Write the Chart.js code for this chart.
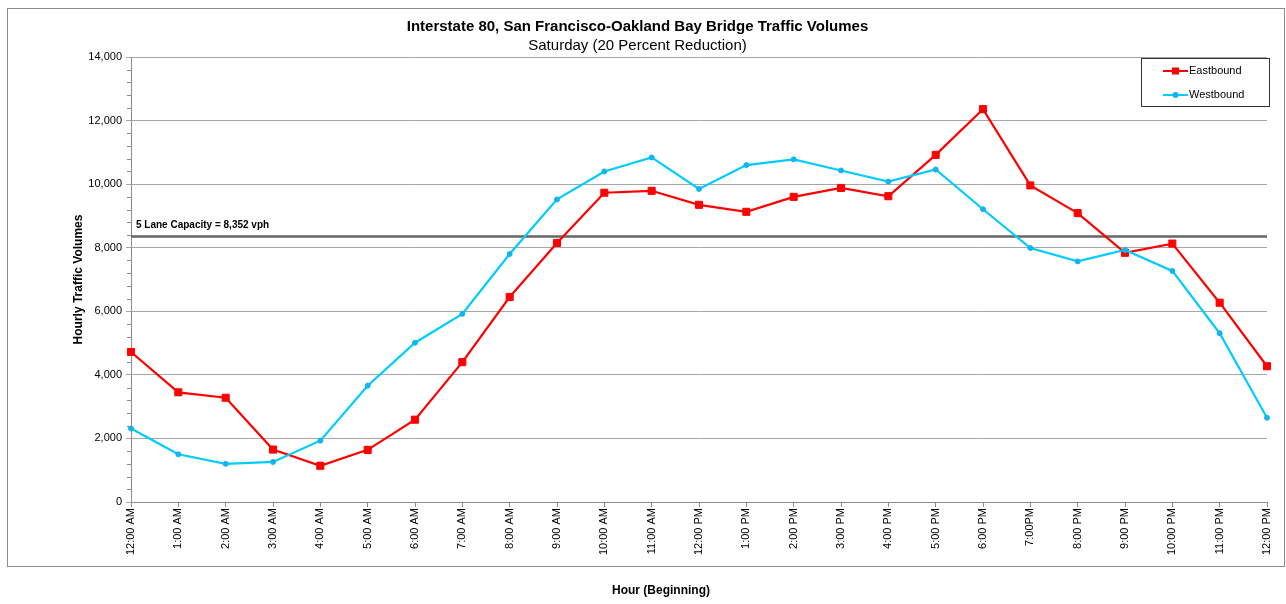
<!DOCTYPE html>
<html>
<head>
<meta charset="utf-8">
<title>I-80 Bay Bridge Traffic Volumes</title>
<script src="https://cdn.jsdelivr.net/npm/chart.js@4.4.1/dist/chart.umd.min.js"></script>
<style>
    html, body { margin: 0; padding: 0; background: #ffffff; }
    #chart-wrap { width: 1286px; height: 604px; }
</style>
</head>
<body>
<div id="chart-wrap">
    <canvas id="trafficChart" width="1286" height="604"></canvas>
</div>
<script>
// Hour labels (as written on the original sheet)
const hourLabels = [
    '12:00 AM', '1:00 AM', '2:00 AM', '3:00 AM', '4:00 AM', '5:00 AM', '6:00 AM',
    '7:00 AM', '8:00 AM', '9:00 AM', '10:00 AM', '11:00 AM', '12:00 PM',
    '1:00 PM', '2:00 PM', '3:00 PM', '4:00 PM', '5:00 PM', '6:00 PM',
    '7:00PM', '8:00 PM', '9:00 PM', '10:00 PM', '11:00 PM', '12:00 PM'
];

// Hourly volumes, vehicles per hour
const eastbound = [
    4720, 3450, 3280, 1650, 1140, 1640, 2590, 4400, 6450, 8150, 9730, 9790, 9350,
    9130, 9600, 9880, 9620, 10920, 12360, 9960, 9090, 7840, 8130, 6270, 4270
];
const westbound = [
    2310, 1500, 1200, 1260, 1930, 3660, 5010, 5920, 7800, 9520, 10400, 10840, 9850,
    10600, 10780, 10430, 10080, 10460, 9210, 7990, 7570, 7930, 7270, 5310, 2650
];

// Y axis ticks
const yTicks = [0, 2000, 4000, 6000, 8000, 10000, 12000, 14000];
const yMinorStep = 400;

// Capacity reference line
const laneCapacity = 8352;
const capacityLabel = '5 Lane Capacity = 8,352 vph';
const xAxisTitle = 'Hour (Beginning)';

const FONT = "Arial, 'Liberation Sans', sans-serif";

document.addEventListener('DOMContentLoaded', function() {
    Chart.defaults.font.family = FONT;
    Chart.defaults.color = '#000000';
    initTrafficChart();
});

// Outer frame, minor ticks, capacity line, x title and the boxed legend
const decorPlugin = {
    id: 'decor',
    beforeDraw(chart) {
        const ctx = chart.ctx;
        ctx.save();
        ctx.fillStyle = '#ffffff';
        ctx.fillRect(0, 0, chart.width, chart.height);
        ctx.strokeStyle = '#8c8c8c';
        ctx.lineWidth = 1;
        ctx.strokeRect(7.5, 8.5, 1277, 558);

        // axis title sits below the frame, centred on the page
        ctx.fillStyle = '#000000';
        ctx.font = 'bold 12px ' + FONT;
        ctx.textAlign = 'center';
        ctx.textBaseline = 'middle';
        ctx.fillText(xAxisTitle, 661, 591);
        ctx.restore();
    },
    beforeDatasetsDraw(chart) {
        const ctx = chart.ctx;
        const y = chart.scales.y;
        const area = chart.chartArea;
        ctx.save();

        // minor ticks on the value axis
        ctx.strokeStyle = '#8c8c8c';
        ctx.lineWidth = 1;
        for (let v = 0; v <= y.max; v += yMinorStep) {
            if (v % 2000 === 0) continue;
            const py = Math.round(y.getPixelForValue(v)) + 0.5;
            ctx.beginPath();
            ctx.moveTo(area.left - 4, py);
            ctx.lineTo(area.left, py);
            ctx.stroke();
        }

        // capacity line
        const cy = y.getPixelForValue(laneCapacity);
        ctx.strokeStyle = '#666666';
        ctx.lineWidth = 2.5;
        ctx.beginPath();
        ctx.moveTo(area.left, cy);
        ctx.lineTo(area.right, cy);
        ctx.stroke();

        ctx.fillStyle = '#000000';
        ctx.font = 'bold 10px ' + FONT;
        ctx.textBaseline = 'alphabetic';
        ctx.fillText(capacityLabel, area.left + 5, cy - 9);
        ctx.restore();
    },
    afterDraw(chart) {
        const ctx = chart.ctx;
        const box = { x: 1141.5, y: 58.5, w: 128, h: 48 };
        ctx.save();
        ctx.fillStyle = '#ffffff';
        ctx.fillRect(box.x, box.y, box.w, box.h);
        ctx.strokeStyle = '#333333';
        ctx.lineWidth = 1;
        ctx.strokeRect(box.x, box.y, box.w, box.h);

        // legend rows: Eastbound first, as in the original
        const rows = [chart.data.datasets[1], chart.data.datasets[0]];
        rows.forEach((ds, i) => {
            const ly = 71 + i * 24;
            ctx.strokeStyle = ds.borderColor;
            ctx.lineWidth = 2;
            ctx.beginPath();
            ctx.moveTo(1163, ly);
            ctx.lineTo(1188, ly);
            ctx.stroke();
            ctx.fillStyle = ds.pointBackgroundColor;
            if (ds.pointStyle === 'rect') {
                ctx.fillRect(1172, ly - 3.5, 7, 7);
            } else {
                ctx.beginPath();
                ctx.arc(1175.5, ly, 3, 0, Math.PI * 2);
                ctx.fill();
            }
            ctx.fillStyle = '#000000';
            ctx.font = '11px ' + FONT;
            ctx.textBaseline = 'middle';
            ctx.fillText(ds.label, 1189, ly);
        });
        ctx.restore();
    }
};

function initTrafficChart() {
    const ctx = document.getElementById('trafficChart');
    if (!ctx) return;

    new Chart(ctx, {
        type: 'line',
        data: {
            labels: hourLabels,
            datasets: [
                {
                    label: 'Westbound',
                    data: westbound,
                    borderColor: '#00ccff',
                    backgroundColor: '#00ccff',
                    pointBackgroundColor: '#14b4ec',
                    pointBorderColor: '#14b4ec',
                    pointStyle: 'circle',
                    pointRadius: 2.5,
                    pointBorderWidth: 1,
                    borderWidth: 2.2,
                    tension: 0,
                    fill: false
                },
                {
                    label: 'Eastbound',
                    data: eastbound,
                    borderColor: '#ff0000',
                    backgroundColor: '#ff0000',
                    pointBackgroundColor: '#ff0000',
                    pointBorderColor: '#ff0000',
                    pointStyle: 'rect',
                    pointRadius: 5,
                    pointBorderWidth: 1,
                    borderWidth: 2.2,
                    tension: 0,
                    fill: false
                }
            ]
        },
        options: {
            responsive: false,
            animation: false,
            layout: {
                padding: { top: 8, left: 8, right: 19, bottom: 0 }
            },
            plugins: {
                legend: { display: false },
                tooltip: { enabled: false },
                title: {
                    display: true,
                    text: 'Interstate 80, San Francisco-Oakland Bay Bridge Traffic Volumes',
                    font: { size: 15, weight: 'bold' },
                    color: '#000000',
                    padding: { top: 10, bottom: 1 }
                },
                subtitle: {
                    display: true,
                    text: 'Saturday (20 Percent Reduction)',
                    font: { size: 15 },
                    color: '#000000',
                    padding: { top: 0, bottom: 2 }
                }
            },
            scales: {
                x: {
                    type: 'category',
                    offset: false,
                    afterFit: scale => { scale.height = 102; },
                    grid: {
                        drawOnChartArea: false,
                        drawTicks: true,
                        tickLength: 5,
                        color: '#8c8c8c'
                    },
                    border: { color: '#8c8c8c' },
                    ticks: {
                        autoSkip: false,
                        minRotation: 90,
                        maxRotation: 90,
                        padding: 1,
                        font: { size: 11 },
                        color: '#000000'
                    }
                },
                y: {
                    min: 0,
                    max: 14000,
                    afterFit: scale => { scale.width = 123; },
                    afterBuildTicks: scale => {
                        scale.ticks = yTicks.map(v => ({ value: v }));
                    },
                    grid: {
                        color: '#a6a6a6',
                        tickLength: 5
                    },
                    border: { color: '#8c8c8c' },
                    ticks: {
                        padding: 4,
                        font: { size: 11 },
                        color: '#000000',
                        callback: v => v.toLocaleString('en-US')
                    },
                    title: {
                        display: true,
                        text: 'Hourly Traffic Volumes',
                        font: { size: 12, weight: 'bold' },
                        color: '#000000',
                        padding: { top: 63, bottom: 0 }
                    }
                }
            }
        },
        plugins: [decorPlugin]
    });
}
</script>
</body>
</html>
